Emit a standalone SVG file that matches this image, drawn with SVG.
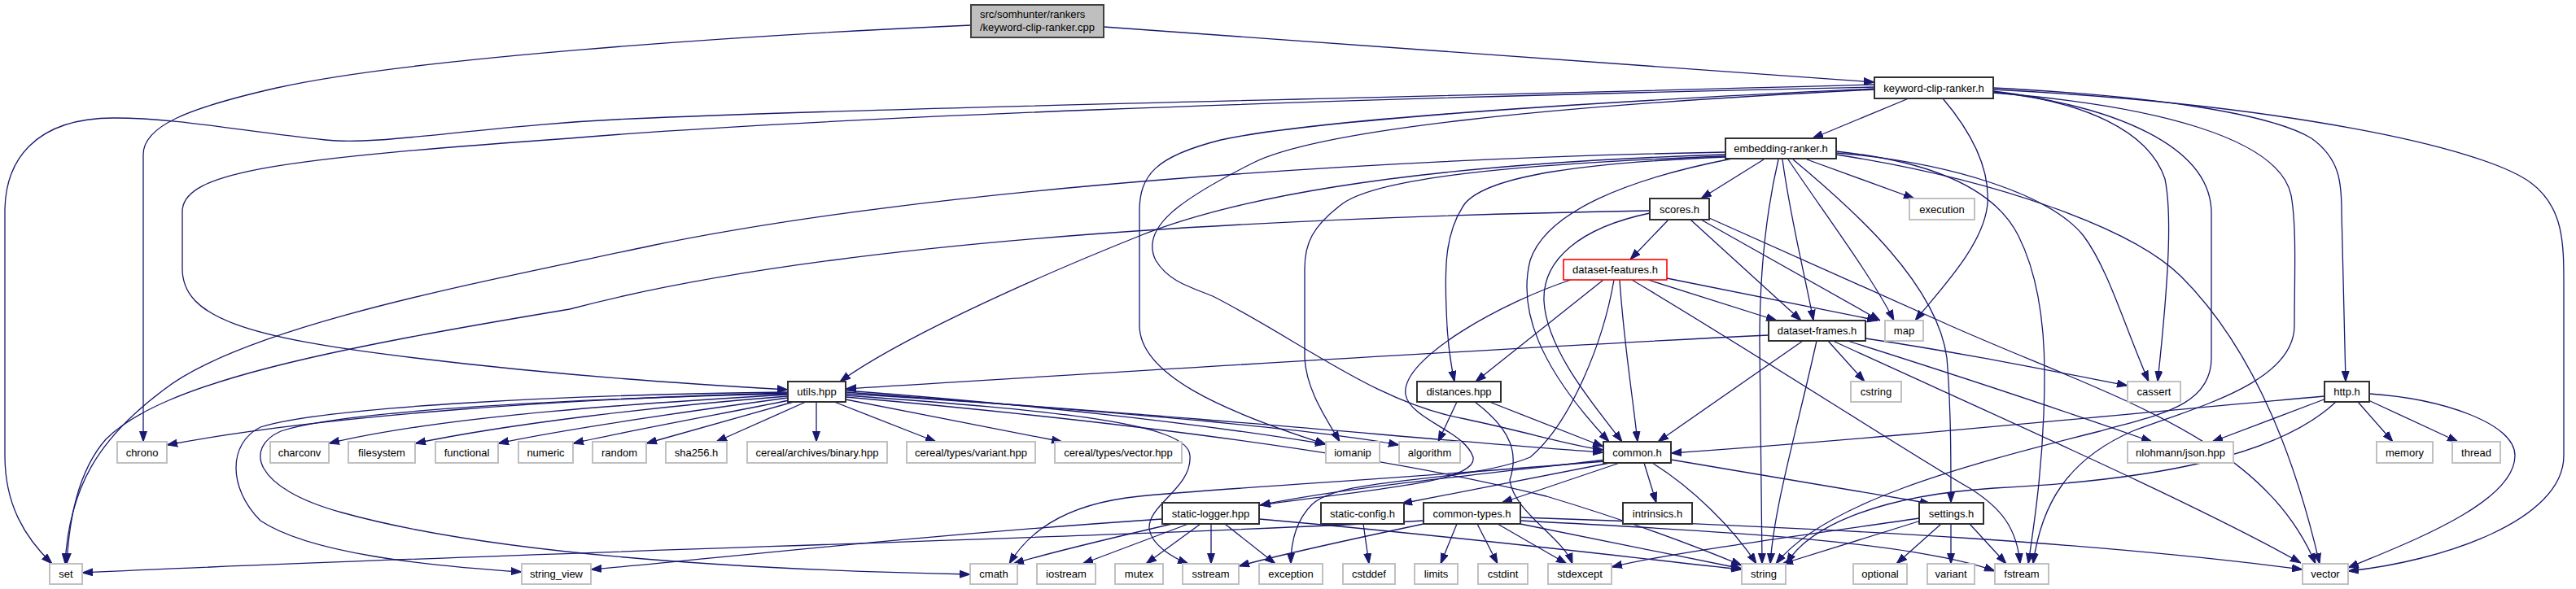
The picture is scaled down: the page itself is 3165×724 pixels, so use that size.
<svg xmlns="http://www.w3.org/2000/svg" width="3165" height="724" viewBox="0 0 3165 724">
<style>
.d{fill:#fff;stroke:#303030;stroke-width:2}
.g{fill:#fff;stroke:#c0c0c0;stroke-width:2}
.r{fill:#fff;stroke:#ff0000;stroke-width:1.6}
.root{fill:#bfbfbf;stroke:#404040;stroke-width:2}
text{font-family:"Liberation Sans",Arial,sans-serif;font-size:13px;fill:#000}
.c{text-anchor:middle}
#edges path{fill:none;stroke:#191970;stroke-width:1.3;marker-end:url(#ah)}
</style>
<defs>
<marker id="ah" viewBox="0 0 13 10" refX="13" refY="5" markerWidth="13" markerHeight="10" markerUnits="userSpaceOnUse" orient="auto">
<path d="M0,0.5 L13,5 L0,9.5 Z" fill="#191970" stroke="#191970" stroke-width="1"/>
</marker>
</defs>
<rect width="3165" height="724" fill="#fff"/>
<g id="edges">
<path d="M1356,33 C1700,56 2000,80 2303,101"/>
<path d="M1193,31 C900,44 500,72 340,108 C230,133 176,155 176,190 L176,543"/>
<path d="M2345,121 L2227,170"/>
<path d="M2387,121 C2420,160 2445,205 2442,250 C2438,300 2385,355 2353,394"/>
<path d="M2303,104 C1800,118 1100,132 800,145 C600,152 470,180 400,172 C300,162 220,145 140,145 C40,145 6,200 6,260 L6,560 C6,620 30,660 64,693"/>
<path d="M2303,107 C1600,122 1000,145 700,170 C350,195 224,210 224,260 L224,330 C224,390 300,415 510,440 C700,463 850,472 968,479"/>
<path d="M2449,108 C2650,118 2790,140 2840,170 C2875,195 2877,225 2877,260 L2882,469"/>
<path d="M2449,112 C2560,125 2640,160 2660,220 C2668,260 2666,330 2651,469"/>
<path d="M2449,110 C2800,128 3050,180 3110,225 C3150,255 3150,300 3150,350 L3150,560 C3150,640 3000,690 2885,702"/>
<path d="M2449,113 C2600,130 2715,180 2717,260 L2717,440 C2717,500 2650,510 2580,530 C2400,575 2240,620 2182,693"/>
<path d="M2449,114 C2650,130 2800,170 2815,240 C2822,280 2819,340 2819,400 C2819,470 2700,500 2620,530 C2540,565 2508,620 2498,693"/>
<path d="M2303,109 C1900,128 1600,150 1500,172 C1420,192 1400,215 1400,260 L1400,400 C1400,460 1500,505 1629,546"/>
<path d="M2303,110 C1900,130 1620,160 1540,200 C1450,245 1400,280 1420,320 C1435,345 1460,352 1490,364 C1600,420 1690,495 1800,515 C1880,532 1930,548 1970,553"/>
<path d="M2167,196 L2090,244"/>
<path d="M2220,196 L2352,244"/>
<path d="M2190,196 C2200,270 2218,340 2228,394"/>
<path d="M2197,196 C2240,260 2300,340 2327,394"/>
<path d="M2185,196 C2170,260 2162,340 2162,420 L2165,693"/>
<path d="M2203,196 C2280,260 2380,350 2392,440 C2397,500 2397,560 2397,618"/>
<path d="M2256,186 C2370,198 2450,230 2480,290 C2505,340 2512,400 2512,460 C2512,560 2500,640 2492,693"/>
<path d="M2256,188 C2400,200 2520,240 2560,290 C2590,330 2610,400 2640,469"/>
<path d="M2256,190 C2450,220 2620,280 2680,340 C2750,410 2810,520 2850,693"/>
<path d="M2120,187 C1700,195 1150,230 800,302 C600,345 300,400 200,480 C120,540 85,600 80,693"/>
<path d="M2120,190 C1800,200 1550,230 1400,290 C1250,350 1100,420 1032,469"/>
<path d="M2120,192 C1900,200 1700,215 1650,250 C1612,278 1603,300 1603,330 L1603,440 C1605,480 1630,515 1646,543"/>
<path d="M2120,193 C1950,200 1830,215 1800,250 C1775,285 1775,330 1777,380 C1778,420 1782,445 1787,469"/>
<path d="M2128,195 C2000,220 1900,260 1880,320 C1865,380 1890,450 1977,543"/>
<path d="M2050,270 L2003,319"/>
<path d="M2077,270 L2213,394"/>
<path d="M2090,270 L2310,394"/>
<path d="M2100,268 C2250,335 2350,380 2400,402 C2600,490 2780,540 2845,693"/>
<path d="M2027,259 C1500,268 1000,300 700,380 C400,430 200,470 130,540 C95,580 85,640 82,693"/>
<path d="M2027,262 C1940,280 1895,320 1897,370 C1900,430 1960,500 1993,543"/>
<path d="M1970,344 L1813,469"/>
<path d="M1990,344 C1995,420 2005,480 2012,543"/>
<path d="M1930,344 C1850,370 1720,440 1727,485 C1732,515 1800,530 1810,562 C1815,592 1700,600 1548,621"/>
<path d="M2025,344 L2183,394"/>
<path d="M2048,342 L2307,394"/>
<path d="M2005,344 C2150,430 2350,560 2420,600 C2460,625 2478,650 2482,693"/>
<path d="M1983,344 C1970,420 1930,520 1880,562 C1800,595 1650,585 1612,620 C1592,640 1586,665 1586,693"/>
<path d="M2246,419 L2291,469"/>
<path d="M2215,419 L2037,543"/>
<path d="M2232,419 C2210,520 2180,620 2175,693"/>
<path d="M2173,412 C1800,430 1300,462 1039,478"/>
<path d="M2292,416 C2400,432 2500,452 2614,474"/>
<path d="M2270,419 C2400,460 2550,510 2644,543"/>
<path d="M2252,419 C2450,510 2700,620 2827,692"/>
<path d="M1790,494 L1767,543"/>
<path d="M1830,494 L1970,549"/>
<path d="M1812,494 C1860,530 1865,560 1855,590 C1860,630 1920,660 1932,693"/>
<path d="M968,483 C700,490 400,510 205,547"/>
<path d="M968,485 C800,495 550,510 404,545"/>
<path d="M968,487 C800,500 620,522 510,545"/>
<path d="M968,489 C850,505 700,526 612,545"/>
<path d="M970,492 C880,510 760,532 704,545"/>
<path d="M975,494 L794,545"/>
<path d="M990,494 L880,543"/>
<path d="M1003,494 L1003,543"/>
<path d="M1025,494 L1150,543"/>
<path d="M1039,491 L1305,543"/>
<path d="M1039,480 C1300,500 1500,525 1629,546"/>
<path d="M1039,482 C1350,505 1600,525 1719,547"/>
<path d="M1039,484 C1400,505 1800,545 1970,556"/>
<path d="M968,482 C700,485 400,500 320,525 C280,545 280,600 320,640 C380,680 520,695 641,703"/>
<path d="M968,484 C700,490 420,505 345,530 C300,550 310,600 420,630 C600,680 900,700 1192,706"/>
<path d="M1039,486 C1300,505 1460,520 1462,560 C1465,600 1410,620 1412,650 C1415,670 1440,685 1460,693"/>
<path d="M1039,488 C1400,520 1700,560 1900,610 C2000,640 2080,670 2140,695"/>
<path d="M1440,644 C1350,665 1270,685 1245,693"/>
<path d="M1460,644 L1330,693"/>
<path d="M1475,644 L1408,693"/>
<path d="M1488,644 L1488,693"/>
<path d="M1505,644 L1567,693"/>
<path d="M1428,638 C1100,660 850,690 726,700"/>
<path d="M1547,638 C1800,660 2000,685 2140,700"/>
<path d="M1790,644 L1770,693"/>
<path d="M1815,644 L1840,693"/>
<path d="M1840,644 L1925,693"/>
<path d="M1749,644 C1650,665 1560,685 1522,696"/>
<path d="M1749,640 C1400,660 600,680 101,704"/>
<path d="M1868,636 C2300,650 2600,670 2829,700"/>
<path d="M1868,644 L2140,699"/>
<path d="M1868,640 C2100,652 2350,665 2451,702"/>
<path d="M1990,569 L1845,618"/>
<path d="M2020,569 L2035,618"/>
<path d="M2030,569 C2080,600 2130,650 2158,693"/>
<path d="M2053,565 L2372,619"/>
<path d="M1975,565 C1800,585 1650,600 1548,621"/>
<path d="M1978,569 L1722,619"/>
<path d="M1972,567 C1700,590 1500,600 1400,610 C1300,620 1260,660 1240,693"/>
<path d="M2360,640 L2190,693"/>
<path d="M2385,644 L2330,693"/>
<path d="M2397,644 L2397,693"/>
<path d="M2420,644 L2465,693"/>
<path d="M2358,637 C2200,660 2050,680 1980,697"/>
<path d="M2858,490 L2718,543"/>
<path d="M2897,494 L2940,543"/>
<path d="M2910,492 L3020,543"/>
<path d="M2911,484 C3000,490 3090,520 3090,560 C3090,620 2950,670 2885,698"/>
<path d="M2870,494 C2800,560 2650,590 2450,600 C2300,610 2220,650 2195,693"/>
<path d="M2856,487 C2600,510 2300,540 2053,557"/>
<path d="M1675,644 L1682,693"/>
</g>
<g id="n-root"><rect class="root" x="1193" y="6" width="163" height="40"/><text x="1204" y="22">src/somhunter/rankers</text><text x="1204" y="37.5">/keyword-clip-ranker.cpp</text></g>
<g id="n-kcr"><rect class="d" x="2303" y="95" width="146" height="26"/><text class="c" x="2376" y="112.5">keyword-clip-ranker.h</text></g>
<g id="n-emb"><rect class="d" x="2120" y="170" width="136" height="25"/><text class="c" x="2188" y="187">embedding-ranker.h</text></g>
<g id="n-scores"><rect class="d" x="2027" y="244" width="73" height="26"/><text class="c" x="2063.5" y="261.5">scores.h</text></g>
<g id="n-execution"><rect class="g" x="2346" y="244" width="80" height="26"/><text class="c" x="2386" y="261.5">execution</text></g>
<g id="n-dfeat"><rect class="r" x="1921" y="319" width="127" height="25"/><text class="c" x="1984.5" y="336">dataset-features.h</text></g>
<g id="n-dframes"><rect class="d" x="2173" y="394" width="119" height="25"/><text class="c" x="2232.5" y="411">dataset-frames.h</text></g>
<g id="n-map"><rect class="g" x="2316" y="394" width="47" height="25"/><text class="c" x="2339.5" y="411">map</text></g>
<g id="n-utils"><rect class="d" x="968" y="469" width="71" height="25"/><text class="c" x="1003.5" y="486">utils.hpp</text></g>
<g id="n-distances"><rect class="d" x="1741" y="469" width="103" height="25"/><text class="c" x="1792.5" y="486">distances.hpp</text></g>
<g id="n-cstring"><rect class="g" x="2274" y="469" width="62" height="25"/><text class="c" x="2305" y="486">cstring</text></g>
<g id="n-cassert"><rect class="g" x="2614" y="469" width="65" height="25"/><text class="c" x="2646.5" y="486">cassert</text></g>
<g id="n-http"><rect class="d" x="2856" y="469" width="55" height="25"/><text class="c" x="2883.5" y="486">http.h</text></g>
<g id="n-chrono"><rect class="g" x="144" y="543" width="61" height="26"/><text class="c" x="174.5" y="560.5">chrono</text></g>
<g id="n-charconv"><rect class="g" x="332" y="543" width="72" height="26"/><text class="c" x="368" y="560.5">charconv</text></g>
<g id="n-filesystem"><rect class="g" x="428" y="543" width="82" height="26"/><text class="c" x="469" y="560.5">filesystem</text></g>
<g id="n-functional"><rect class="g" x="535" y="543" width="77" height="26"/><text class="c" x="573.5" y="560.5">functional</text></g>
<g id="n-numeric"><rect class="g" x="637" y="543" width="67" height="26"/><text class="c" x="670.5" y="560.5">numeric</text></g>
<g id="n-random"><rect class="g" x="728" y="543" width="66" height="26"/><text class="c" x="761" y="560.5">random</text></g>
<g id="n-sha256"><rect class="g" x="818" y="543" width="75" height="26"/><text class="c" x="855.5" y="560.5">sha256.h</text></g>
<g id="n-binary"><rect class="g" x="918" y="543" width="172" height="26"/><text class="c" x="1004" y="560.5">cereal/archives/binary.hpp</text></g>
<g id="n-cvariant"><rect class="g" x="1114" y="543" width="158" height="26"/><text class="c" x="1193" y="560.5">cereal/types/variant.hpp</text></g>
<g id="n-cvector"><rect class="g" x="1296" y="543" width="156" height="26"/><text class="c" x="1374" y="560.5">cereal/types/vector.hpp</text></g>
<g id="n-iomanip"><rect class="g" x="1629" y="543" width="66" height="26"/><text class="c" x="1662" y="560.5">iomanip</text></g>
<g id="n-algorithm"><rect class="g" x="1719" y="543" width="75" height="26"/><text class="c" x="1756.5" y="560.5">algorithm</text></g>
<g id="n-common"><rect class="d" x="1970" y="543" width="83" height="26"/><text class="c" x="2011.5" y="560.5">common.h</text></g>
<g id="n-nlohmann"><rect class="g" x="2614" y="543" width="130" height="26"/><text class="c" x="2679" y="560.5">nlohmann/json.hpp</text></g>
<g id="n-memory"><rect class="g" x="2920" y="543" width="69" height="26"/><text class="c" x="2954.5" y="560.5">memory</text></g>
<g id="n-thread"><rect class="g" x="3013" y="543" width="59" height="26"/><text class="c" x="3042.5" y="560.5">thread</text></g>
<g id="n-slogger"><rect class="d" x="1428" y="618" width="119" height="26"/><text class="c" x="1487.5" y="635.5">static-logger.hpp</text></g>
<g id="n-sconfig"><rect class="d" x="1623" y="618" width="102" height="26"/><text class="c" x="1674" y="635.5">static-config.h</text></g>
<g id="n-ctypes"><rect class="d" x="1749" y="618" width="119" height="26"/><text class="c" x="1808.5" y="635.5">common-types.h</text></g>
<g id="n-intrinsics"><rect class="d" x="1994" y="618" width="85" height="26"/><text class="c" x="2036.5" y="635.5">intrinsics.h</text></g>
<g id="n-settings"><rect class="d" x="2358" y="618" width="79" height="26"/><text class="c" x="2397.5" y="635.5">settings.h</text></g>
<g id="n-set"><rect class="g" x="61" y="693" width="40" height="25"/><text class="c" x="81" y="710">set</text></g>
<g id="n-string_view"><rect class="g" x="641" y="693" width="85" height="25"/><text class="c" x="683.5" y="710">string_view</text></g>
<g id="n-cmath"><rect class="g" x="1192" y="693" width="58" height="25"/><text class="c" x="1221" y="710">cmath</text></g>
<g id="n-iostream"><rect class="g" x="1274" y="693" width="72" height="25"/><text class="c" x="1310" y="710">iostream</text></g>
<g id="n-mutex"><rect class="g" x="1370" y="693" width="59" height="25"/><text class="c" x="1399.5" y="710">mutex</text></g>
<g id="n-sstream"><rect class="g" x="1453" y="693" width="69" height="25"/><text class="c" x="1487.5" y="710">sstream</text></g>
<g id="n-exception"><rect class="g" x="1547" y="693" width="78" height="25"/><text class="c" x="1586" y="710">exception</text></g>
<g id="n-cstddef"><rect class="g" x="1650" y="693" width="64" height="25"/><text class="c" x="1682" y="710">cstddef</text></g>
<g id="n-limits"><rect class="g" x="1738" y="693" width="53" height="25"/><text class="c" x="1764.5" y="710">limits</text></g>
<g id="n-cstdint"><rect class="g" x="1816" y="693" width="61" height="25"/><text class="c" x="1846.5" y="710">cstdint</text></g>
<g id="n-stdexcept"><rect class="g" x="1902" y="693" width="78" height="25"/><text class="c" x="1941" y="710">stdexcept</text></g>
<g id="n-string"><rect class="g" x="2140" y="693" width="54" height="25"/><text class="c" x="2167" y="710">string</text></g>
<g id="n-optional"><rect class="g" x="2277" y="693" width="66" height="25"/><text class="c" x="2310" y="710">optional</text></g>
<g id="n-variant"><rect class="g" x="2368" y="693" width="58" height="25"/><text class="c" x="2397" y="710">variant</text></g>
<g id="n-fstream"><rect class="g" x="2451" y="693" width="66" height="25"/><text class="c" x="2484" y="710">fstream</text></g>
<g id="n-vector"><rect class="g" x="2829" y="693" width="56" height="25"/><text class="c" x="2857" y="710">vector</text></g>
</svg>
